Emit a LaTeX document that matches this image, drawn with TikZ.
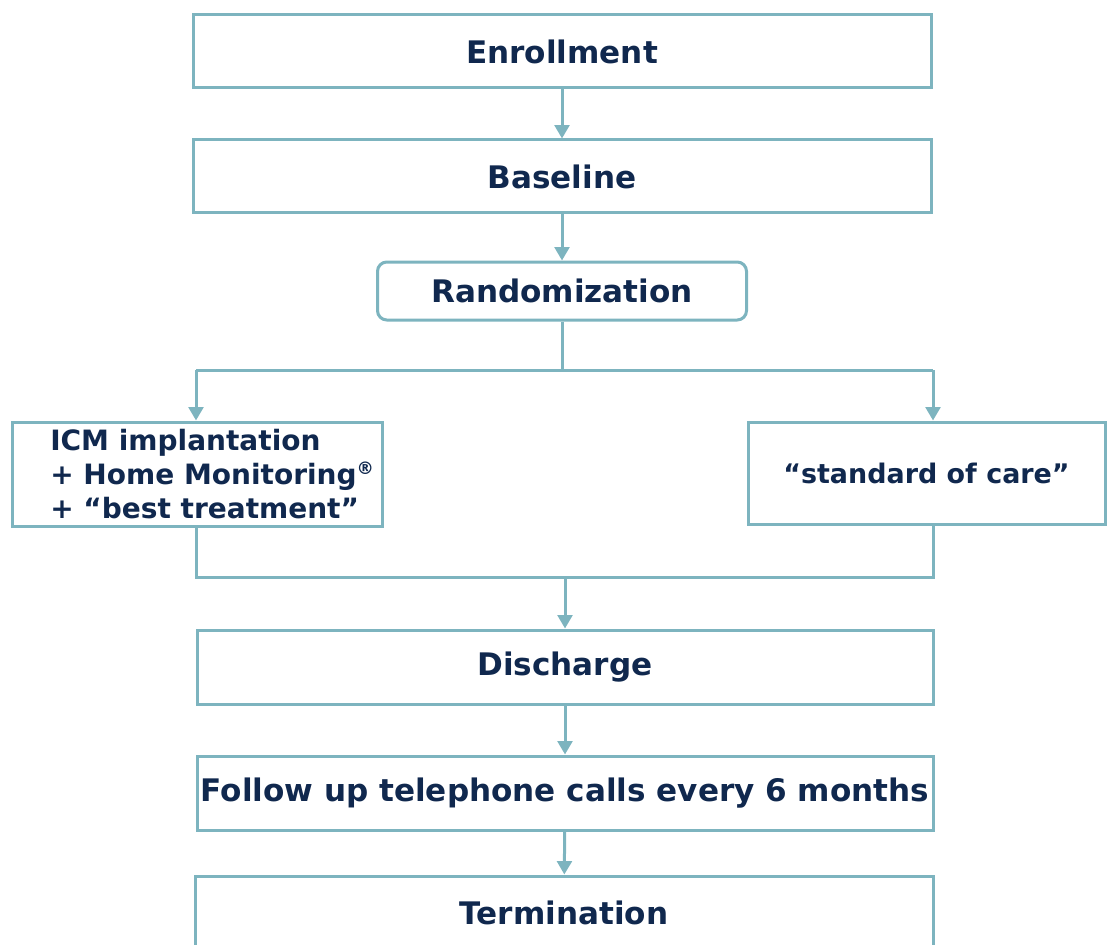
\documentclass[tikz,border=0pt]{standalone}
\usepackage{fontspec}
\setmainfont{DejaVu Sans}
\usetikzlibrary{arrows.meta}
\definecolor{navy}{HTML}{10284E}
\definecolor{teal}{HTML}{7DB4BF}
\tikzset{
  box/.style={draw=teal, line width=2.25pt, fill=white, text=navy, font=\bfseries\fontsize{23.3}{28}\selectfont, inner sep=0pt},
  smallbox/.style={box, font=\bfseries\fontsize{20.2}{25}\selectfont},
  conn/.style={draw=teal, line width=2.25pt},
  arr/.style={conn, -{Triangle[width=11pt,length=10pt]}},
  lbl/.style={text=navy, font=\bfseries\fontsize{21}{25.5}\selectfont, inner sep=0pt}
}
\begin{document}
\begin{tikzpicture}[x=0.75pt,y=-0.75pt]
\useasboundingbox (0,0) rectangle (1107,945);
\node[box, minimum width=553.5pt, minimum height=54.75pt] (enr) at (562,51.5) {Enrollment};
\node[box, minimum width=553.5pt, minimum height=54.75pt] (base) at (562,176.5) {Baseline};
\node[box, rounded corners=7pt, minimum width=276.75pt, minimum height=43.5pt] (rand) at (562,291) {Randomization};
\node[box, minimum width=277.5pt, minimum height=78pt] (icm) at (197,474) {};
\node[lbl, anchor=west, align=left] (icmt) at (50,474) {ICM implantation\\+ Home Monitoring\textsuperscript{\fontsize{13}{13}\selectfont ®}\\+ “best treatment”};
\node[smallbox, minimum width=267.75pt, minimum height=76.5pt] (soc) at (926.5,473) {“standard of care”};
\node[box, minimum width=552pt, minimum height=55.5pt] (dis) at (565,667) {Discharge};
\node[box, minimum width=552pt, minimum height=55.5pt] (fol) at (565,793) {Follow up telephone calls every 6 months};
\node[box, minimum width=553.5pt, minimum height=55.5pt] (ter) at (564,913) {Termination};
\coordinate (split) at (562,370);
\coordinate (sL) at (196,370);
\coordinate (sR) at (933,370);
\coordinate (mL) at (196,577);
\coordinate (mR) at (933,577);
\coordinate (merge) at (565,577);
\draw[arr] (enr) -- (base);
\draw[arr] (base) -- (rand);
\draw[conn] (rand.south) -- (split);
\draw[conn] (sL) -- (sR);
\draw[arr] (sL) -- (sL |- icm.north);
\draw[arr] (sR) -- (sR |- soc.north);
\draw[conn] (icm.south -| mL) -- (mL) -- (mR) -- (soc.south -| mR);
\draw[arr] (merge) -- (dis);
\draw[arr] (dis) -- (fol);
\draw[arr] (fol) -- (ter);
\end{tikzpicture}
\end{document}
